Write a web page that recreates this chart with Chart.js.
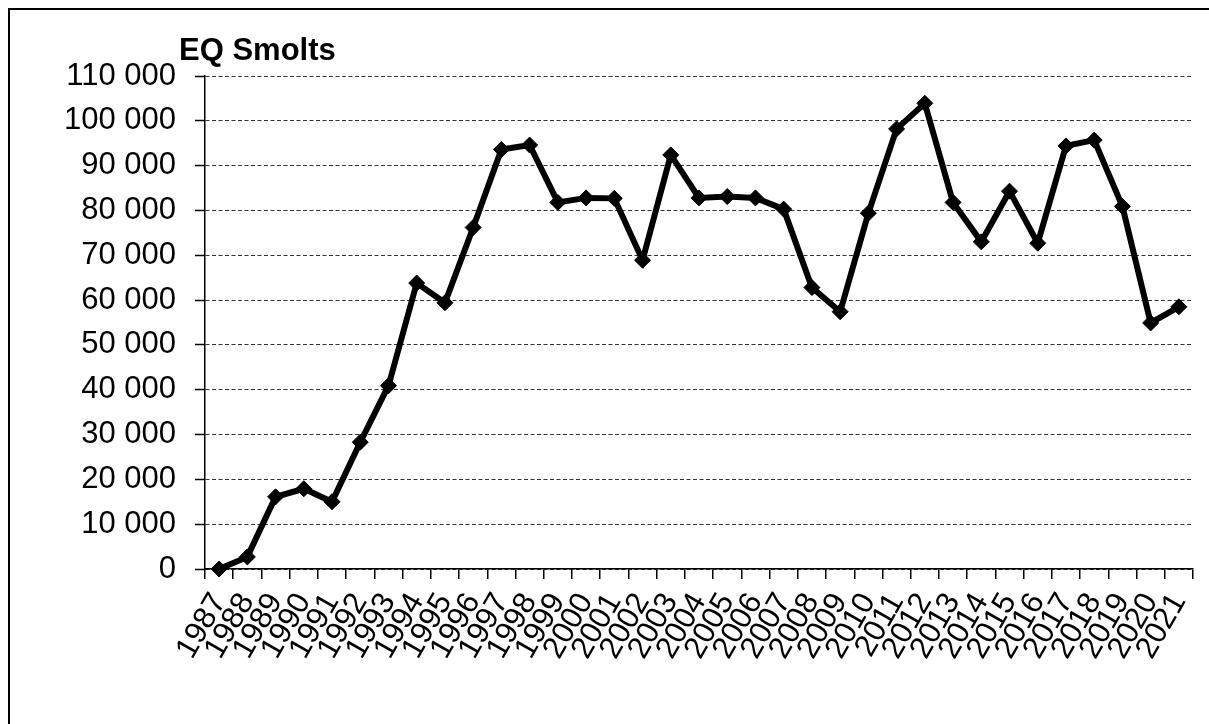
<!DOCTYPE html>
<html>
<head>
<meta charset="utf-8">
<script src="https://cdn.jsdelivr.net/npm/chart.js@4"></script>
<style>
html,body{margin:0;padding:0;background:#fff;overflow:hidden;}
#wrap{position:relative;width:1209px;height:724px;overflow:hidden;}
#frame{position:absolute;left:8px;top:8px;width:1240px;height:760px;border:2px solid #000;box-sizing:border-box;}
canvas{position:absolute;left:0;top:0;}
</style>
</head>
<body>
<div id="wrap"><div id="frame"></div><canvas id="c" width="1209" height="724"></canvas></div>
<script>
const chartTitle = 'EQ Smolts';
const years = ['1987','1988','1989','1990','1991','1992','1993','1994','1995','1996','1997','1998','1999','2000','2001','2002','2003','2004','2005','2006','2007','2008','2009','2010','2011','2012','2013','2014','2015','2016','2017','2018','2019','2020','2021'];
const eqSmolts = [0, 2700, 16100, 17900, 15000, 28300, 40900, 63800, 59400, 76200, 93600, 94600, 81800, 82800, 82700, 68900, 92400, 82800, 83100, 82800, 80300, 62800, 57400, 79400, 98200, 103900, 81800, 73000, 84300, 72700, 94400, 95700, 80900, 54900, 58500];
const yMin = 0;
const yMax = 110000;
const yStep = 10000;

function fmt(v){ return String(v).replace(/\B(?=(\d{3})+(?!\d))/g, ' '); }

const fontFamily = '"Liberation Sans", Arial, sans-serif';

const titlePlugin = {
  id: 'eqTitle',
  afterDraw(chart){
    const {ctx, chartArea} = chart;
    ctx.save();
    ctx.font = 'bold 31px ' + fontFamily;
    ctx.fillStyle = '#000';
    ctx.textAlign = 'left';
    ctx.textBaseline = 'alphabetic';
    ctx.fillText(chartTitle, chartArea.left - 26, chartArea.top - 16);
    ctx.restore();
  }
};

new Chart(document.getElementById('c'), {
  type: 'line',
  data: {
    labels: years,
    datasets: [{
      data: eqSmolts,
      borderColor: '#000',
      backgroundColor: '#000',
      borderWidth: 6,
      pointStyle: 'rectRot',
      pointRadius: 8,
      pointBackgroundColor: '#000',
      pointBorderColor: '#000',
      pointBorderWidth: 1,
      tension: 0,
      clip: false
    }]
  },
  options: {
    responsive: false,
    animation: false,
    devicePixelRatio: 1,
    layout: { padding: { left: 0, top: 76, right: 16, bottom: 0 } },
    plugins: { legend: { display: false }, tooltip: { enabled: false }, title: { display: false } },
    scales: {
      x: {
        offset: true,
        grid: { offset: true, drawOnChartArea: false, drawTicks: true, tickLength: 10, color: '#000', tickColor: '#000', lineWidth: 1.5 },
        border: { display: true, color: '#000', width: 1.5 },
        ticks: {
          autoSkip: false, maxRotation: 60, minRotation: 60, padding: 8, color: '#000',
          font: { family: fontFamily, size: 31 }
        },
        afterFit(s){ s.height = 155; s.paddingRight = 0; s.paddingLeft = 0; }
      },
      y: {
        min: yMin, max: yMax,
        ticks: {
          stepSize: yStep, padding: 19, color: '#000',
          font: { family: fontFamily, size: 31 },
          callback: (v) => fmt(v)
        },
        grid: { color: '#333', lineWidth: 1, tickColor: '#000', tickLength: 10, tickBorderDash: [1, 0], tickWidth: 1.5 },
        border: { display: true, color: '#000', width: 1.5, dash: [4, 2.5] },
        afterFit(s){ s.width = 205; }
      }
    }
  },
  plugins: [titlePlugin]
});
</script>
</body>
</html>
